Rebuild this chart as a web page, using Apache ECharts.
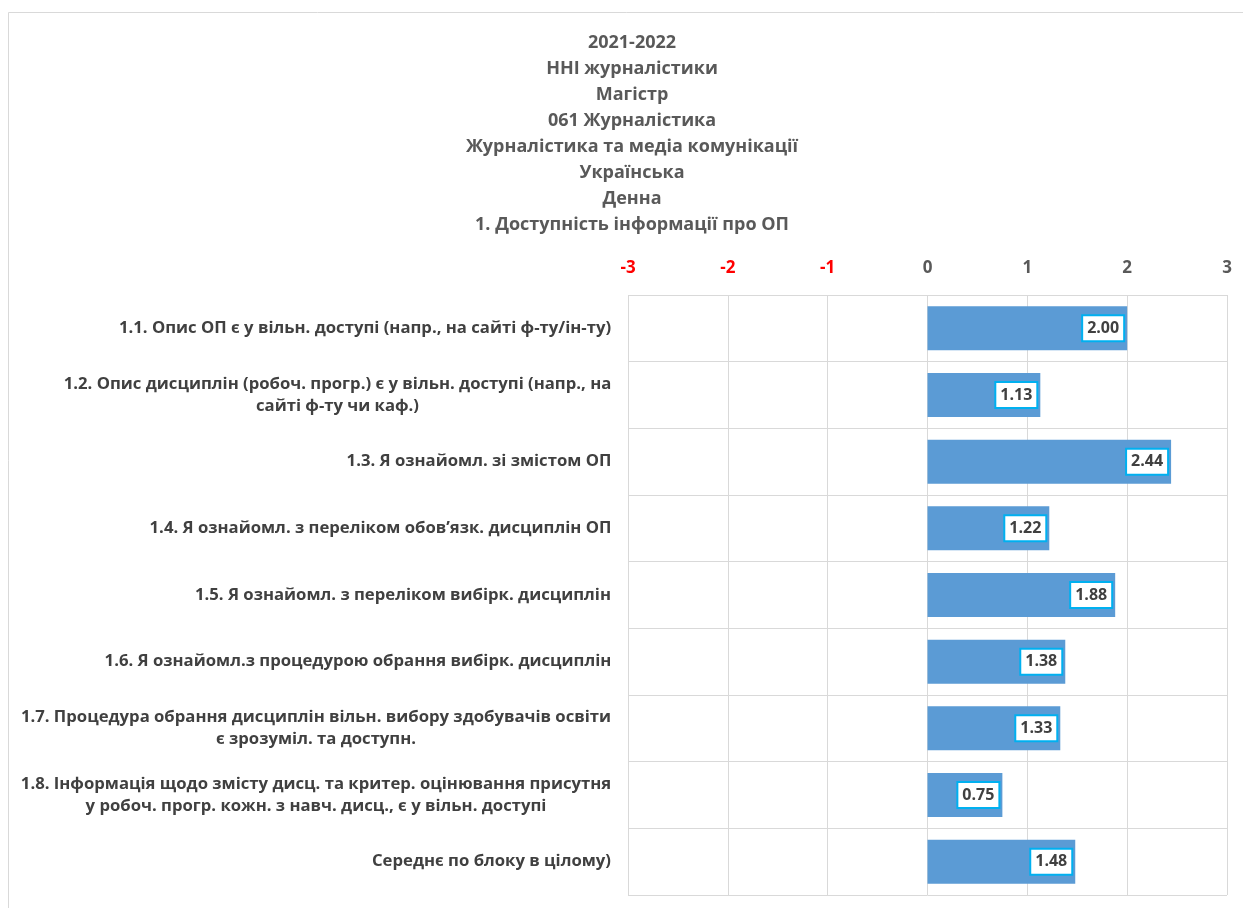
<!DOCTYPE html>
<html>
<head>
<meta charset="utf-8">
<script src="https://cdn.jsdelivr.net/npm/echarts@6/dist/echarts.min.js"></script>
<style>
html,body{margin:0;padding:0;background:#fff;}
#chart{width:1243px;height:908px;}
</style>
</head>
<body>
<div id="chart"></div>
<script>
const titleLines = [
  '2021-2022',
  'ННІ журналістики',
  'Магістр',
  '061 Журналістика',
  'Журналістика та медіа комунікації',
  'Українська',
  'Денна',
  '1. Доступність інформації про ОП'
];
const categories = [
  '1.1. Опис ОП є у вільн. доступі (напр., на сайті ф-ту/ін-ту)',
  '1.2. Опис дисциплін (робоч. прогр.) є у вільн. доступі (напр., на\nсайті ф-ту чи каф.)',
  '1.3. Я ознайомл. зі змістом ОП',
  '1.4. Я ознайомл. з переліком обов’язк. дисциплін ОП',
  '1.5. Я ознайомл. з переліком вибірк. дисциплін',
  '1.6. Я ознайомл.з процедурою обрання вибірк. дисциплін',
  '1.7. Процедура обрання дисциплін вільн. вибору здобувачів освіти\nє зрозуміл. та доступн.',
  '1.8. Інформація щодо змісту дисц. та критер. оцінювання присутня\nу робоч. прогр. кожн. з навч. дисц., є у вільн. доступі',
  'Середнє по блоку в цілому)'
];
const values = [2.00, 1.13, 2.44, 1.22, 1.88, 1.38, 1.33, 0.75, 1.48];
const xTicks = [-3, -2, -1, 0, 1, 2, 3];

const FONT = '"Open Sans", "Noto Sans", sans-serif';
const catFontSize = 16.7;
const ctx = document.createElement('canvas').getContext('2d');
ctx.font = 'bold ' + catFontSize + 'px ' + FONT;
const rich = {};
categories.forEach((c, i) => {
  const lines = c.split('\n');
  const w = Math.max(...lines.map(l => ctx.measureText(l).width));
  rich['c' + i] = {
    width: Math.ceil(w) + 1, align: 'center',
    fontSize: catFontSize, fontWeight: 'bold', fontFamily: FONT,
    color: '#404040', lineHeight: 22
  };
});

const chart = echarts.init(document.getElementById('chart'));
chart.setOption({
  animation: false,
  backgroundColor: '#fff',
  graphic: [{
    type: 'rect',
    shape: {x: 8.5, y: 12.5, width: 1300, height: 1000},
    style: {fill: 'none', stroke: '#d9d9d9', lineWidth: 1}
  }, {
    type: 'text', x: 632, y: 30,
    style: {
      text: titleLines.join('\n'), textAlign: 'center', textVerticalAlign: 'top',
      fontFamily: FONT, fontSize: 18, fontWeight: 'bold', fill: '#595959', lineHeight: 26
    }
  }],
  grid: {left: 628, top: 295, width: 599, height: 600, containLabel: false},
  xAxis: {
    type: 'value', position: 'top', min: -3, max: 3, interval: 1,
    axisLine: {show: false}, axisTick: {show: false},
    splitLine: {show: true, lineStyle: {color: '#d9d9d9', width: 1}},
    axisLabel: {
      margin: 18, fontFamily: FONT, fontSize: 17, fontWeight: 'bold',
      formatter: v => String(v),
      color: v => (Number(v) < 0 ? '#ff0000' : '#595959')
    }
  },
  yAxis: {
    type: 'category', data: categories, inverse: true,
    axisLine: {show: false}, axisTick: {show: false},
    splitLine: {show: true, lineStyle: {color: '#d9d9d9', width: 1}},
    axisLabel: {
      margin: 16, align: 'right',
      formatter: (v, i) => v.split('\n').map(l => '{c' + i + '|' + l + '}').join('\n'),
      rich: rich
    }
  },
  series: [{
    type: 'bar', data: values, barCategoryGap: '34%',
    itemStyle: {color: '#5b9bd5'},
    label: {
      show: true, position: 'insideRight', distance: 4,
      formatter: p => p.value.toFixed(2),
      fontFamily: FONT, fontSize: 16, fontWeight: 'bold', color: '#404040', lineHeight: 16,
      backgroundColor: '#fff', borderColor: '#00b0f0', borderWidth: 2,
      padding: [4, 4, 4, 4]
    }
  }]
});
</script>
</body>
</html>
